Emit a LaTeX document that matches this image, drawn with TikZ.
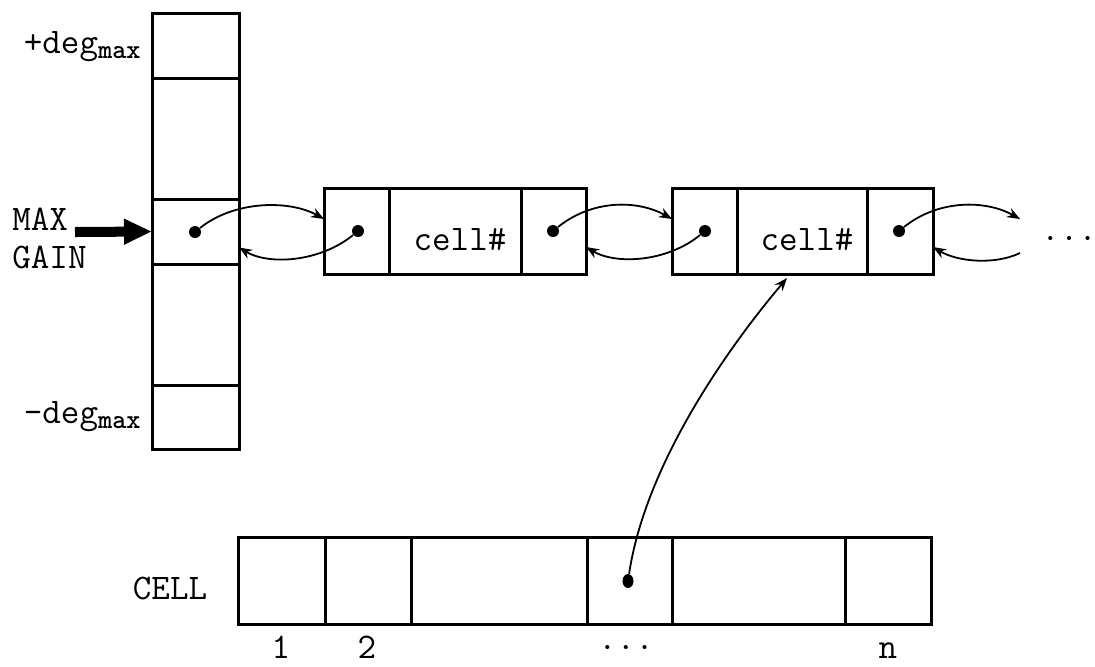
\documentclass[tikz,border=0pt]{standalone}
\usepackage{fontspec}
\usetikzlibrary{arrows.meta,shapes.geometric}
% one rectangular cell given by its corners (x1,y1) and (x2,y2)
\newcommand\cellat[5]{%
  \node[cellbox, minimum width={(#4-#2)*0.5pt}, minimum height={(#5-#3)*0.5pt}]
    (#1) at ({(#2+#4)/2},{(#3+#5)/2}) {};}
\begin{document}
\begin{tikzpicture}[x=0.5pt,y=-0.5pt,
  cellbox/.style={draw, line width=1.5pt, inner sep=0pt, outer sep=0pt},
  link/.style={line width=0.9pt, -{Stealth[length=6.5pt,width=5pt]}},
  ptr/.style={circle, fill, inner sep=0pt, minimum size=6pt},
  tt/.style={font=\fontsize{18}{19}\selectfont\ttfamily, inner sep=0pt},
  bigarrow/.style={line width=5pt, -{Triangle[length=14pt,width=12pt]}}
]
\useasboundingbox (0,0) rectangle (1095,666);

% bucket array
\cellat{col1}{152}{13}{239}{78}
\cellat{col2}{152}{78}{239}{199}
\cellat{col3}{152}{199}{239}{264}
\cellat{col4}{152}{264}{239}{385}
\cellat{col5}{152}{385}{239}{449}

% first list element
\cellat{n1a}{324}{188}{389}{274}
\cellat{n1b}{389}{188}{521}{274}
\cellat{n1c}{521}{188}{586}{274}
% second list element
\cellat{n2a}{672}{188}{737}{274}
\cellat{n2b}{737}{188}{867}{274}
\cellat{n2c}{867}{188}{933}{274}

% CELL array
\cellat{a1}{238}{537}{325}{624}
\cellat{a2}{325}{537}{411}{624}
\cellat{a3}{411}{537}{587}{624}
\cellat{a4}{587}{537}{672}{624}
\cellat{a5}{672}{537}{845}{624}
\cellat{a6}{845}{537}{931}{624}

% labels
\node[tt, anchor=base east] (degtop) at (141,53)
  {+deg\raisebox{-2.5pt}{\fontsize{13.5}{14}\selectfont\bfseries max}};
\node[tt, anchor=base east] (degbot) at (141,423)
  {-deg\raisebox{-2.5pt}{\fontsize{13.5}{14}\selectfont\bfseries max}};
\node[tt, anchor=west, align=left] (mg) at (12,238) {MAX\\GAIN};
\node[tt, anchor=base] (lbl1) at (460,250) {cell\#};
\node[tt, anchor=base] (lbl2) at (807,250) {cell\#};
\node[tt, anchor=base] (more) at (1069,249) {···};
\node[tt] (celllbl) at (170,588) {CELL};
\node[tt, anchor=base] (i1) at (281,658) {1};
\node[tt, anchor=base] (i2) at (367,658) {2};
\node[tt, anchor=base] (idots) at (626,658) {···};
\node[tt, anchor=base] (in) at (888,658) {n};

% pointer dots
\node[ptr] (d0) at (195,232) {};
\node[ptr] (d1) at (358,231) {};
\node[ptr] (d2) at (553,231) {};
\node[ptr] (d3) at (705,231) {};
\node[ptr] (d4) at (899,231) {};
\node[ptr, ellipse, minimum width=5.5pt, minimum height=7pt] (d5) at (628,581) {};

% MAX GAIN pointer
\coordinate (mgfrom) at (75,232);
\draw[bigarrow] (mgfrom) -- (col3.west);

% forward and backward links
\draw[link] (d0) .. controls +(40,-32) and +(-34,-19) .. ([yshift=6pt]n1a.west);
\draw[link] (d1) .. controls +(-38,31) and +(30,18) .. ([yshift=-8pt]col3.east);
\draw[link] (d2) .. controls +(40,-32) and +(-34,-19) .. ([yshift=6pt]n2a.west);
\draw[link] (d3) .. controls +(-38,31) and +(30,18) .. ([yshift=-8pt]n1c.east);
\coordinate (nextin) at (1020,219);
\coordinate (nextout) at (1020,253);
\draw[link] (d4) .. controls +(40,-32) and +(-34,-19) .. (nextin);
\draw[link] (nextout) .. controls +(-25,12) and +(25,15) .. ([yshift=-8pt]n2c.east);

% CELL entry to its list element
\draw[link] (d5) .. controls +(18,-120) and +(-55,65) .. ([xshift=-7.5pt,yshift=-2pt]n2b.south);
\end{tikzpicture}
\end{document}
